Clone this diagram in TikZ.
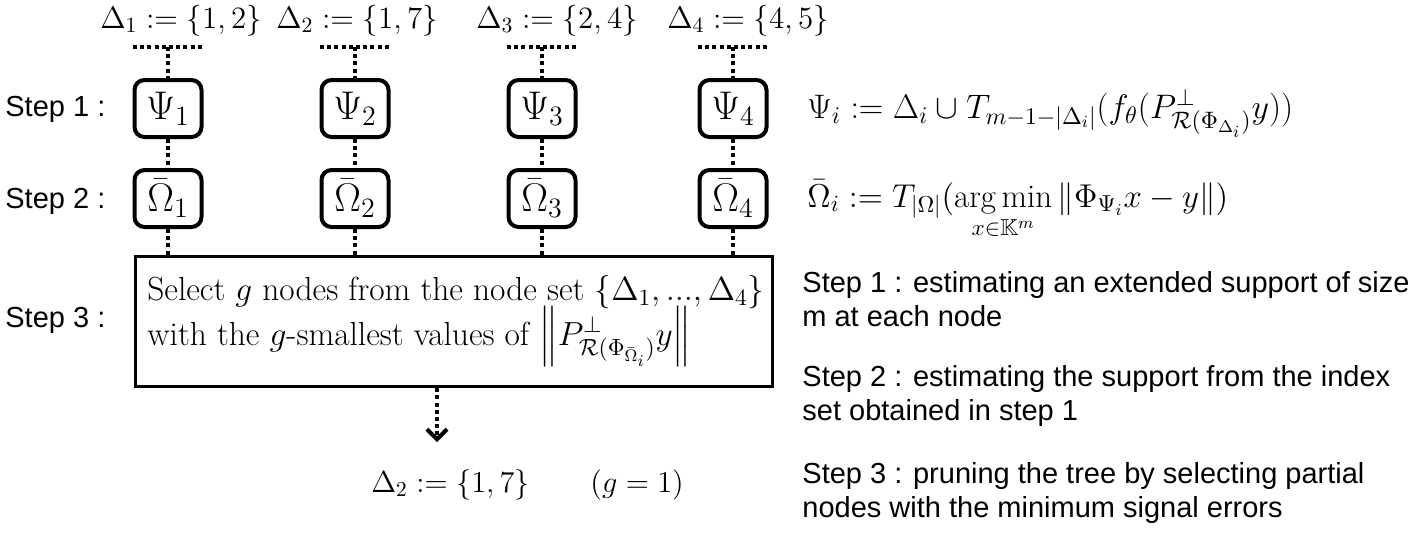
\RequirePackage{fix-cm}
\documentclass[tikz,border=0pt]{standalone}
\usepackage{amsmath,amssymb}
\usepackage{fontspec}
\newfontfamily\arialfont{Liberation Sans}
\usetikzlibrary{arrows.meta}
\tikzset{
  dotline/.style={line width=2pt, dash pattern=on 2pt off 1.6pt},
  opbox/.style={draw, line width=2pt, rounded corners=5pt, minimum width=33.5pt, minimum height=28.5pt, inner sep=0pt, font=\fontsize{20}{24}\selectfont},
  selbox/.style={draw, line width=1.6pt, minimum width=318.5pt, minimum height=65pt, inner sep=0pt},
  lbl/.style={font=\fontsize{15.5}{18}\selectfont, inner sep=0pt},
  frm/.style={font=\fontsize{16.5}{20}\selectfont, inner sep=0pt, anchor=base west},
  boxtxt/.style={font=\fontsize{16.7}{20}\selectfont, inner sep=0pt, anchor=base west},
  sans/.style={font=\arialfont\fontsize{14.5}{17}\selectfont, inner sep=0pt, anchor=base west, align=left},
}
\begin{document}
\begin{tikzpicture}[x=0.5pt,y=-0.5pt]
\useasboundingbox (0,0) rectangle (1412,532);
% top labels
\node[lbl, anchor=base] (d1) at (181,28) {$\Delta_1 := \{1,2\}$};
\node[lbl, anchor=base] (d2) at (357,28) {$\Delta_2 := \{1,7\}$};
\node[lbl, anchor=base] (d3) at (557,28) {$\Delta_3 := \{2,4\}$};
\node[lbl, anchor=base] (d4) at (748,28) {$\Delta_4 := \{4,5\}$};
% selection box
\node[selbox, anchor=north west] (sel) at (134,255) {};
\foreach \i/\x in {1/168,2/355,3/542,4/733} {
  \node[opbox] (psi\i) at (\x,108.5) {$\Psi_\i$};
  \node[opbox] (om\i) at (\x,198.5) {$\bar{\Omega}_\i$};
  \coordinate (top\i) at (\x,47);
  \coordinate (tl\i) at (\x-35,47);
  \coordinate (tr\i) at (\x+35,47);
  \draw[dotline] (tl\i) -- (tr\i);
  \draw[dotline] (top\i) -- (psi\i.north);
  \draw[dotline] (psi\i.south) -- (om\i.north);
  \draw[dotline] (om\i.south) -- (om\i.south |- sel.north);
}
% left labels
\node[sans] (s1) at (5,116) {Step 1 :};
\node[sans] (s2) at (5,208) {Step 2 :};
\node[sans] (s3) at (5,327) {Step 3 :};
% box text
\node[boxtxt] (sel1) at (147,300) {Select $g$ nodes from the node set $\{\Delta_1,...,\Delta_4\}$};
\node[boxtxt] (sel2) at (147,345) {with the $g$-smallest values of $\left\|P^{\perp}_{\mathcal{R}(\Phi_{\bar{\Omega}_i})}y\right\|$};
% arrow and result
\coordinate (arrtip) at (437,442);
\draw[dotline, -{Straight Barb[length=5pt,width=10pt,line width=2pt]}] (arrtip |- sel.south) -- (arrtip);
\node[frm, font=\fontsize{15.2}{18}\selectfont] (res) at (371,492) {$\Delta_2 := \{1,7\} \qquad (g=1)$};
% right formulas
\node[frm, font=\fontsize{17}{20}\selectfont] (f1) at (807,118) {$\Psi_i := \Delta_i \cup T_{m-1-|\Delta_i|}(f_\theta(P^{\perp}_{\mathcal{R}(\Phi_{\Delta_i})}y))$};
\node[frm] (f2) at (807,207) {$\displaystyle \bar{\Omega}_i := T_{|\Omega|}(\mathop{\arg\min}\limits_{x\in\mathbb{K}^m}\|\Phi_{\Psi_i}x-y\|)$};
% right descriptions
\node[sans] (t1) at (802,326) {Step 1 : estimating an extended support of size\\m at each node};
\node[sans] (t2) at (802,420) {Step 2 : estimating the support from the index\\set obtained in step 1};
\node[sans] (t3) at (802,517) {Step 3 : pruning the tree by selecting partial\\nodes with the minimum signal errors};
\end{tikzpicture}
\end{document}
